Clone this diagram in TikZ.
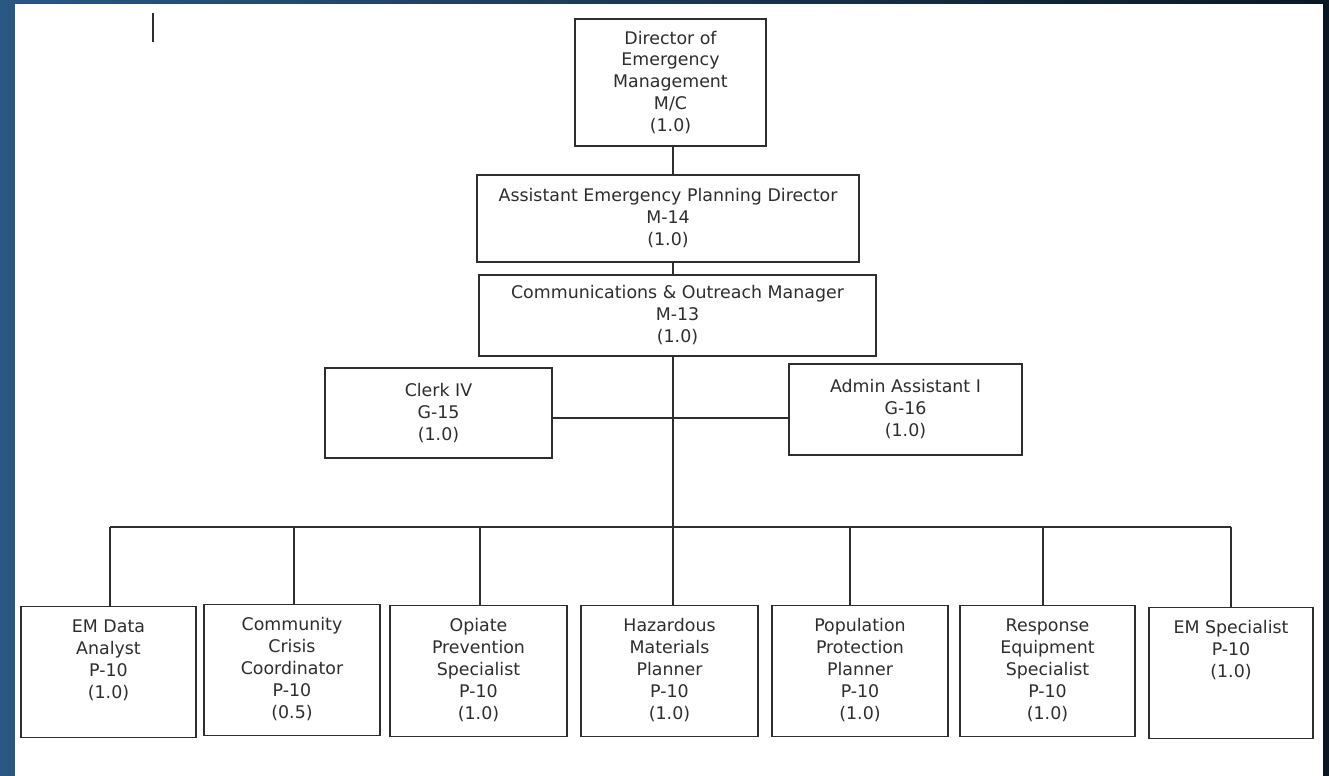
\documentclass[tikz,border=0pt]{standalone}
\usepackage{fontspec}
\setmainfont{DejaVu Sans}
\usetikzlibrary{calc}
\definecolor{bgblue}{HTML}{2A5783}
\definecolor{bgnavy}{HTML}{0A1723}
\definecolor{ink}{HTML}{2E2E2E}
\newcommand{\orgfont}{\fontsize{9.9}{12.5}\selectfont}
\newcommand{\leaftext}[2]{\parbox[c][2.62cm][t]{#1}{\centering\rule{0pt}{0.52cm}#2}}
\tikzset{
  box/.style={draw=ink, line width=0.75pt, fill=white, inner sep=0pt, align=center, text=ink, font=\orgfont},
  wire/.style={draw=ink, line width=0.75pt},
}

\begin{document}
\begin{tikzpicture}[x=0.02cm, y=-0.02cm]
			%%%%% START %%%%%
			\useasboundingbox (0,0) rectangle (1329,776);
			\shade[left color=bgblue, right color=bgnavy] (0,0) rectangle (1329,776);
			\fill[white] (15,4) rectangle (1323,776);
			\draw[ink, line width=1.1pt] (153,13) -- (153,42);
			
			\node[box, minimum width=3.82cm, minimum height=2.54cm] (dir) at (670.5,82.5) {Director of\\Emergency\\Management\\M/C\\(1.0)};
			\node[box, minimum width=7.64cm, minimum height=1.74cm] (asst) at (668,218.5) {Assistant Emergency Planning Director\\M-14\\(1.0)};
			\node[box, minimum width=7.94cm, minimum height=1.62cm] (comm) at (677.5,315.5) {Communications \& Outreach Manager\\M-13\\(1.0)};
			
			\node[box, minimum width=4.54cm, minimum height=1.8cm] (clerk) at (438.5,413) {Clerk IV\\G-15\\(1.0)};
			\node[box, minimum width=4.66cm, minimum height=1.82cm] (admin) at (905.5,409.5) {Admin Assistant I\\G-16\\(1.0)};
			
			\node[box, anchor=north] (ema) at (108.5,606) {\leaftext{3.5cm}{EM Data\\Analyst\\P-10\\(1.0)}};
			\node[box, anchor=north] (ccc) at (292,604) {\leaftext{3.52cm}{Community\\Crisis\\Coordinator\\P-10\\(0.5)}};
			\node[box, anchor=north] (ops) at (478.5,605) {\leaftext{3.54cm}{Opiate\\Prevention\\Specialist\\P-10\\(1.0)}};
			\node[box, anchor=north] (hmp) at (669.5,605) {\leaftext{3.54cm}{Hazardous\\Materials\\Planner\\P-10\\(1.0)}};
			\node[box, anchor=north] (ppp) at (860,605) {\leaftext{3.52cm}{Population\\Protection\\Planner\\P-10\\(1.0)}};
			\node[box, anchor=north] (res) at (1047.5,605) {\leaftext{3.5cm}{Response\\Equipment\\Specialist\\P-10\\(1.0)}};
			\node[box, anchor=north] (ems) at (1231,607) {\leaftext{3.28cm}{EM Specialist\\P-10\\(1.0)}};
			
			\coordinate (trunk) at (673,527);
			\coordinate (side) at (673,418);
			\draw[wire] (dir.south -| trunk) -- (asst.north -| trunk);
			\draw[wire] (asst.south -| trunk) -- (comm.north -| trunk);
			\draw[wire] (comm.south -| trunk) -- (trunk);
			\draw[wire] (side -| clerk.east) -- (side -| admin.west);
			
			\foreach \n/\x in {ema/110, ccc/294, ops/480, hmp/673, ppp/850, res/1043, ems/1231}{
				\coordinate (d\n) at (\x,527);
				\draw[wire] (d\n) -- (d\n |- \n.north);
			}
			\draw[wire] (dema) -- (dems);
			%%%%% END %%%%%
\end{tikzpicture}
\end{document}
